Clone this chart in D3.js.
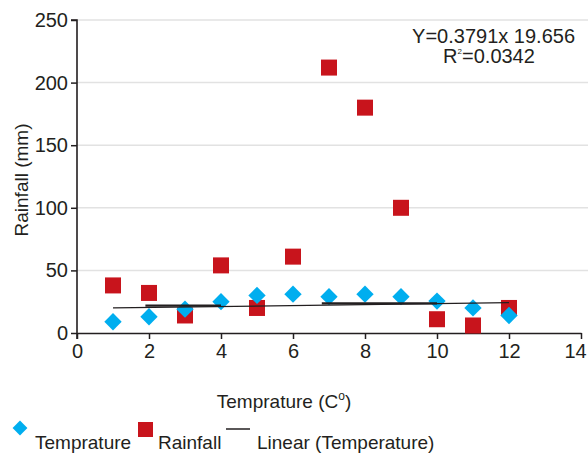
<!DOCTYPE html>
<html>
<head>
<meta charset="utf-8">
<script src="https://cdn.jsdelivr.net/npm/d3@7"></script>
<style>
  body { margin: 0; background: #fff; }
  svg { display: block; font-family: "Liberation Sans", Arial, sans-serif; }
  text { fill: #231f20; }
</style>
</head>
<body>
<svg></svg>
<script>
const temps = [1, 2, 3, 4, 5, 6, 7, 8, 9, 10, 11, 12];
const temperature = [9, 13, 19, 25, 30, 31, 29, 31, 29, 25.5, 20, 14];
const rainfall = [38, 32, 14, 54, 20, 61, 212, 180, 100, 11, 6, 20];
const yTicks = [0, 50, 100, 150, 200, 250];
const xTicks = [0, 2, 4, 6, 8, 10, 12, 14];
const slope = 0.3791, intercept = 19.656;
// extra overlapping trend pieces seen in the picture
const trendPieces = [[1.9, 4, 21.8], [6.8, 10, 23.6]];

const W = 588, H = 455;
const margin = {top: 20, right: 7, bottom: 122, left: 77};

const svg = d3.select("svg").attr("width", W).attr("height", H);

const x = d3.scaleLinear().domain([0, 14]).range([margin.left, 581]);
const y = d3.scaleLinear().domain([0, 250]).range([333, margin.top]);

// grid
svg.append("g").selectAll("line")
    .data(yTicks.filter(d => d > 0))
  .enter().append("line")
    .attr("x1", margin.left).attr("x2", W)
    .attr("y1", d => y(d)).attr("y2", d => y(d))
    .attr("stroke", "#e2e2e2").attr("stroke-width", 1.5);

// axes
const yAxis = svg.append("g")
    .attr("transform", "translate(" + margin.left + ",0)")
    .call(d3.axisLeft(y).tickValues(yTicks).tickSize(6).tickPadding(3));
const xAxis = svg.append("g")
    .attr("transform", "translate(0," + y(0) + ")")
    .call(d3.axisBottom(x).tickValues(xTicks).tickSize(6).tickPadding(5).tickSizeOuter(0));
[yAxis, xAxis].forEach(g => {
  g.select(".domain").attr("stroke", "#231f20").attr("stroke-width", 1.6);
  g.selectAll(".tick line").attr("stroke", "#231f20").attr("stroke-width", 1.5);
  g.selectAll("text").style("font-size", "20px").attr("fill", "#231f20")
    .style("font-family", "Liberation Sans, Arial, sans-serif");
});
yAxis.select(".domain").attr("d", "M-6," + y(250) + "H0V" + (y(0) + 6));
xAxis.selectAll(".tick text").filter(d => d === 14).attr("dx", -6);

// markers
const sq = 16;
svg.append("g").selectAll("rect")
    .data(temps)
  .enter().append("rect")
    .attr("x", (d, i) => x(d) - sq / 2)
    .attr("y", (d, i) => y(rainfall[i]) - sq / 2)
    .attr("width", sq).attr("height", sq)
    .attr("fill", "#c8141c");

const diamond = d3.symbol().type(d3.symbolSquare).size(150);
svg.append("g").selectAll("path")
    .data(temps)
  .enter().append("path")
    .attr("d", diamond)
    .attr("transform", (d, i) => "translate(" + x(d) + "," + y(temperature[i]) + ") rotate(45)")
    .attr("fill", "#00aeef");

// trend lines
svg.append("line")
    .attr("x1", x(1)).attr("x2", x(12))
    .attr("y1", y(slope * 1 + intercept)).attr("y2", y(slope * 12 + intercept))
    .attr("stroke", "#231f20").attr("stroke-width", 1.3);
svg.append("g").selectAll("line")
    .data(trendPieces)
  .enter().append("line")
    .attr("x1", d => x(d[0])).attr("x2", d => x(d[1]))
    .attr("y1", d => y(d[2])).attr("y2", d => y(d[2]))
    .attr("stroke", "#231f20").attr("stroke-width", 2.2);

// equation
svg.append("text")
    .attr("x", 575).attr("y", 43)
    .attr("text-anchor", "end")
    .style("font-size", "20px")
    .text("Y=0.3791x 19.656");
const r2 = svg.append("text")
    .attr("x", 489).attr("y", 63)
    .attr("text-anchor", "middle")
    .style("font-size", "20px");
r2.append("tspan").text("R");
r2.append("tspan").attr("dy", -9).style("font-size", "8px").text("2");
r2.append("tspan").attr("dy", 9).text("=0.0342");

// axis titles
svg.append("text")
    .attr("transform", "translate(28,180) rotate(-90)")
    .attr("text-anchor", "middle")
    .style("font-size", "19px")
    .text("Rainfall (mm)");
const xt = svg.append("text")
    .attr("x", 284).attr("y", 408)
    .attr("text-anchor", "middle")
    .style("font-size", "19px");
xt.append("tspan").text("Temprature (C");
xt.append("tspan").attr("dy", -8).style("font-size", "12px").text("o");
xt.append("tspan").attr("dy", 8).text(")");

// legend
const leg = svg.append("g");
leg.append("path")
    .attr("d", d3.symbol().type(d3.symbolSquare).size(110))
    .attr("transform", "translate(20,428) rotate(45)")
    .attr("fill", "#00aeef");
leg.append("text").attr("x", 35).attr("y", 449).style("font-size", "19px").text("Temprature");
leg.append("rect").attr("x", 138).attr("y", 422).attr("width", 15).attr("height", 15).attr("fill", "#c8141c");
leg.append("text").attr("x", 158).attr("y", 449).style("font-size", "19px").text("Rainfall");
leg.append("line").attr("x1", 226).attr("x2", 250).attr("y1", 429).attr("y2", 429)
    .attr("stroke", "#231f20").attr("stroke-width", 1.5);
leg.append("text").attr("x", 257).attr("y", 449).style("font-size", "19px").text("Linear (Temperature)");
</script>
</body>
</html>
